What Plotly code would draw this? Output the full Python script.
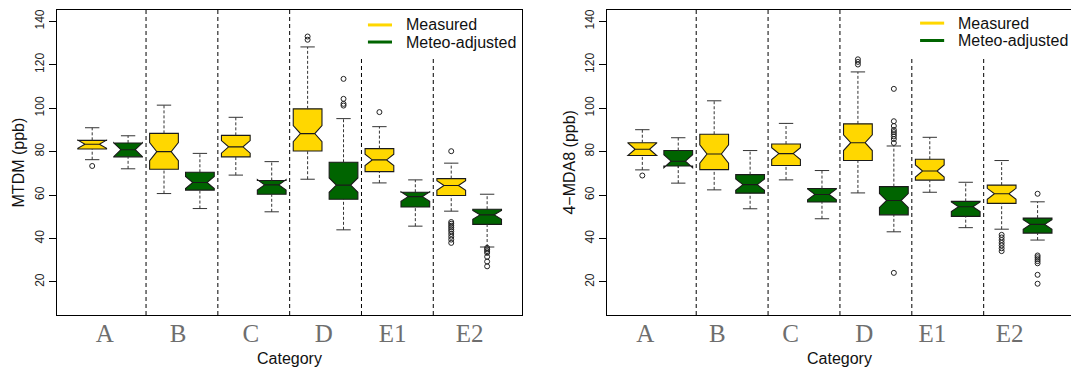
import plotly.graph_objects as go

categories = ["A", "B", "C", "D", "E1", "E2"]
y_ticks = [20, 40, 60, 80, 100, 120, 140]

# ---- MTDM (ppb): box statistics per category ----
mtdm_meas_lo = [76.3, 60.7, 69.2, 67.3, 65.6, 52.6]
mtdm_meas_q1 = [81.2, 71.9, 77.6, 80.3, 70.8, 59.8]
mtdm_meas_med = [83.4, 80.0, 82.2, 88.3, 76.2, 64.4]
mtdm_meas_q3 = [85.2, 88.4, 87.5, 99.7, 81.4, 67.6]
mtdm_meas_hi = [91.0, 101.4, 95.8, 128.2, 91.5, 74.7]
mtdm_meas_notch = [1.9, 4.2, 2.9, 3.7, 2.6, 2.2]
mtdm_meas_out = [[73.4], [], [], [133.0, 131.5], [98.2],
                 [80.2, 47.6, 46.8, 45.9, 45.1, 44.2, 43.3, 42.1, 40.8, 39.5, 38.0]]

mtdm_adj_lo = [72.1, 53.8, 52.3, 44.0, 45.7, 36.1]
mtdm_adj_q1 = [77.6, 62.3, 60.4, 58.1, 54.5, 46.5]
mtdm_adj_med = [80.9, 65.8, 64.7, 64.6, 59.3, 50.9]
mtdm_adj_q3 = [84.0, 70.5, 66.7, 75.1, 61.3, 53.5]
mtdm_adj_hi = [87.3, 79.2, 75.4, 95.2, 67.0, 60.4]
mtdm_adj_notch = [3.2, 2.8, 2.4, 3.3, 2.2, 2.0]
mtdm_adj_out = [[], [], [], [113.5, 104.3, 102.0, 101.2], [],
                [35.7, 35.0, 34.2, 33.4, 31.6, 29.4, 27.2]]

# ---- 4-MDA8 (ppb): box statistics per category ----
mda8_meas_lo = [71.6, 62.4, 67.0, 61.0, 61.3, 44.3]
mda8_meas_q1 = [78.2, 71.7, 73.6, 75.9, 66.9, 56.2]
mda8_meas_med = [81.1, 78.9, 79.1, 84.1, 71.1, 60.6]
mda8_meas_q3 = [84.1, 88.0, 83.5, 92.8, 76.5, 64.6]
mda8_meas_hi = [90.1, 103.4, 93.0, 116.7, 86.6, 75.9]
mda8_meas_notch = [2.9, 4.2, 2.7, 3.6, 2.8, 2.5]
mda8_meas_out = [[69.0], [], [], [122.5, 121.3, 120.1], [],
                 [41.7, 40.5, 39.3, 38.0, 36.8, 35.5, 34.2]]

mda8_adj_lo = [65.5, 53.7, 49.1, 43.1, 45.0, 39.3]
mda8_adj_q1 = [73.4, 60.9, 56.8, 50.9, 50.2, 42.5]
mda8_adj_med = [75.6, 64.8, 60.3, 57.5, 54.6, 46.5]
mda8_adj_q3 = [80.5, 69.4, 63.0, 63.9, 57.1, 49.4]
mda8_adj_hi = [86.4, 80.5, 71.3, 82.6, 65.9, 56.9]
mda8_adj_notch = [3.0, 2.6, 2.5, 3.2, 2.2, 2.2]
mda8_adj_out = [[], [], [], [108.9, 94.0, 91.8, 90.0, 89.0, 88.0, 87.0, 85.8, 84.0, 24.2], [],
                [60.6, 32.2, 31.4, 30.5, 29.6, 28.6, 23.3, 19.2]]

GOLD = "#FFD700"
DARKGREEN = "#006400"
EDGE = "#1a1a1a"
SANS = "Liberation Sans, Arial, sans-serif"
SERIF = "Liberation Serif, Times New Roman, serif"

BOX_W = 0.8
CAP_HALF = 0.2

fig = go.Figure()


def add_series(pos, lo, q1, med, q3, hi, notch, outliers, color, xa, ya):
    # notched box (whiskers drawn separately as dashed lines)
    fig.add_trace(go.Box(
        x=pos, q1=q1, median=med, q3=q3, lowerfence=q1, upperfence=q3,
        notched=True, notchspan=notch, notchwidth=0.25, width=BOX_W,
        whiskerwidth=0, fillcolor=color, line=dict(color=EDGE, width=1.1),
        boxpoints=False, xaxis=xa, yaxis=ya, showlegend=False,
        hoverinfo="skip"))
    wx, wy, cx, cy = [], [], [], []
    for p, a, b, c, d in zip(pos, lo, q1, q3, hi):
        wx += [p, p, None, p, p, None]
        wy += [a, b, None, c, d, None]
        cx += [p - CAP_HALF, p + CAP_HALF, None, p - CAP_HALF, p + CAP_HALF, None]
        cy += [a, a, None, d, d, None]
    fig.add_trace(go.Scatter(x=wx, y=wy, mode="lines", xaxis=xa, yaxis=ya,
                             line=dict(color="#333333", width=1, dash="3px,2px"),
                             showlegend=False, hoverinfo="skip"))
    fig.add_trace(go.Scatter(x=cx, y=cy, mode="lines", xaxis=xa, yaxis=ya,
                             line=dict(color="#333333", width=1),
                             showlegend=False, hoverinfo="skip"))
    ox, oy = [], []
    for p, vals in zip(pos, outliers):
        ox += [p] * len(vals)
        oy += vals
    fig.add_trace(go.Scatter(x=ox, y=oy, mode="markers", xaxis=xa, yaxis=ya,
                             marker=dict(symbol="circle-open", size=5,
                                         color="#222222", line=dict(width=1)),
                             showlegend=False, hoverinfo="skip"))


n = len(categories)
meas_pos = [2 * i + 1 for i in range(n)]
adj_pos = [2 * i + 2 for i in range(n)]

add_series(meas_pos, mtdm_meas_lo, mtdm_meas_q1, mtdm_meas_med, mtdm_meas_q3,
           mtdm_meas_hi, mtdm_meas_notch, mtdm_meas_out, GOLD, "x", "y")
add_series(adj_pos, mtdm_adj_lo, mtdm_adj_q1, mtdm_adj_med, mtdm_adj_q3,
           mtdm_adj_hi, mtdm_adj_notch, mtdm_adj_out, DARKGREEN, "x", "y")
add_series(meas_pos, mda8_meas_lo, mda8_meas_q1, mda8_meas_med, mda8_meas_q3,
           mda8_meas_hi, mda8_meas_notch, mda8_meas_out, GOLD, "x2", "y2")
add_series(adj_pos, mda8_adj_lo, mda8_adj_q1, mda8_adj_med, mda8_adj_q3,
           mda8_adj_hi, mda8_adj_notch, mda8_adj_out, DARKGREEN, "x2", "y2")

Y_RANGE = [4.8, 145.2]

# category label placement (slightly left of each pair's centre)
label_shift_left = [-0.15, -0.11, -0.08, -0.05, -0.13, 0.01]
label_shift_right = [-0.42, -0.41, -0.37, -0.32, -0.43, -0.28]
centres = [2 * i + 1.5 for i in range(n)]

common_x = dict(showgrid=False, zeroline=False, showline=True, mirror=True,
                linecolor="black", linewidth=1, ticks="",
                tickfont=dict(family=SERIF, size=25, color="#6e6e6e"),
                ticklabelstandoff=-4)
common_y = dict(range=Y_RANGE, showgrid=False, zeroline=False, showline=True,
                mirror=True, linecolor="black", linewidth=1, ticks="outside",
                ticklen=7, tickcolor="black", tickvals=y_ticks, tickangle=-90,
                tickfont=dict(family=SANS, size=12, color="#222222"))

fig.update_layout(
    width=1071, height=367,
    margin=dict(l=57, r=0, t=10, b=52),
    paper_bgcolor="white", plot_bgcolor="white",
    boxmode="overlay",
    xaxis=dict(domain=[0, 0.4589], range=[0.02, 12.98], anchor="y",
               tickvals=[c + s for c, s in zip(centres, label_shift_left)],
               ticktext=categories, **common_x),
    yaxis=dict(domain=[0, 1], anchor="x", **common_y),
    xaxis2=dict(domain=[0.5425, 1.0], range=[0.02, 12.93], anchor="y2",
                tickvals=[c + s for c, s in zip(centres, label_shift_right)],
                ticktext=categories, **common_x),
    yaxis2=dict(domain=[0, 1], anchor="x2", **common_y),
    showlegend=False,
)

# vertical separators between categories
shapes = []
for xr, yr in [("x", "y"), ("x2", "y2")]:
    for k, sep in enumerate([c + 1 for c in centres[:-1]]):
        top = Y_RANGE[1] if k < 3 else 123.0
        shapes.append(dict(type="line", xref=xr, yref=yr, x0=sep, x1=sep,
                           y0=Y_RANGE[0], y1=top,
                           line=dict(color="black", width=1, dash="4px,3px")))

# legend keys
annotations = []
legend_items = [("Measured", GOLD), ("Meteo-adjusted", DARKGREEN)]
for xr, yr, x0, ys in [("x", "y domain", 8.68, [0.951, 0.895]),
                       ("x2", "y2 domain", 8.73, [0.957, 0.900])]:
    for (txt, col), yy in zip(legend_items, ys):
        shapes.append(dict(type="line", xref=xr, yref=yr, x0=x0, x1=x0 + 0.67,
                           y0=yy, y1=yy, line=dict(color=col, width=3)))
        annotations.append(dict(xref=xr, yref=yr, x=x0 + 1.0, y=yy, text=txt,
                                showarrow=False, xanchor="left", yanchor="middle",
                                font=dict(family=SANS, size=16, color="#111111")))

# axis titles
for xr, yr in [("x", "y domain"), ("x2", "y2 domain")]:
    annotations.append(dict(xref=xr, yref=yr, x=6.5, y=-0.141, text="Category",
                            showarrow=False, xanchor="center", yanchor="middle",
                            font=dict(family=SANS, size=16, color="#111111")))
annotations.append(dict(xref="paper", yref="paper", x=-0.0375, y=0.5,
                        text="MTDM (ppb)", textangle=-90, showarrow=False,
                        xanchor="center", yanchor="middle",
                        font=dict(family=SANS, size=16, color="#111111")))
annotations.append(dict(xref="paper", yref="paper", x=0.505, y=0.5,
                        text="4\u2212MDA8 (ppb)", textangle=-90, showarrow=False,
                        xanchor="center", yanchor="middle",
                        font=dict(family=SANS, size=16, color="#111111")))

fig.update_layout(shapes=shapes, annotations=annotations)
fig.write_html("out.html")
